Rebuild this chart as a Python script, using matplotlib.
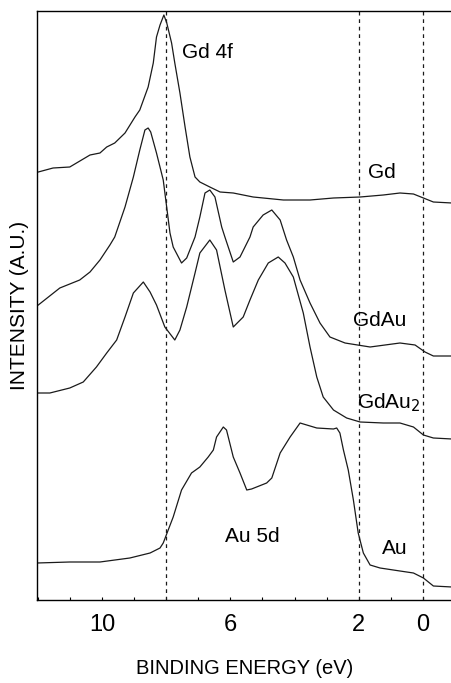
import matplotlib
matplotlib.use('Agg')
import matplotlib.pyplot as plt
from matplotlib.ticker import FixedLocator, MultipleLocator

plt.rcParams['font.family'] = ['Liberation Sans', 'DejaVu Sans']

# binding energy (eV) / intensity (arb. units, already offset per spectrum)
gd_e = [11.98, 11.52, 11.00, 10.37, 10.06, 9.85, 9.60, 9.28, 8.97, 8.82, 8.56, 8.40,
        8.30, 8.19, 8.07, 7.98, 7.83, 7.73, 7.57, 7.41, 7.26, 7.10, 6.95, 6.64, 6.32,
        5.91, 5.29, 4.35, 3.52, 2.79, 1.96, 1.24, 0.72, 0.30, -0.01, -0.32, -0.90]
gd_i = [428, 432, 433, 445, 447, 453, 457, 467, 483, 490, 513, 537,
        563, 575, 585, 577, 557, 537, 507, 473, 443, 423, 418, 413, 408,
        407, 403, 400, 400, 402, 403, 405, 407, 406, 402, 398, 397]

gdau_e = [11.98, 11.31, 10.69, 10.37, 10.06, 9.75, 9.60, 9.28, 9.02, 8.82, 8.66, 8.56,
          8.48, 8.30, 8.09, 7.88, 7.78, 7.52, 7.36, 7.10, 6.95, 6.79, 6.64, 6.48, 6.27,
          6.17, 5.91, 5.70, 5.39, 5.29, 4.98, 4.71, 4.45, 4.25, 4.04, 3.83, 3.52, 3.21,
          2.90, 2.43, 1.65, 0.72, 0.25, -0.06, -0.32, -0.90]
gdau_i = [295, 312, 320, 328, 340, 355, 363, 393, 423, 450, 470, 472,
          468, 447, 420, 367, 353, 337, 342, 363, 383, 407, 410, 403, 373,
          363, 338, 343, 363, 373, 385, 390, 380, 360, 343, 320, 297, 277,
          263, 257, 253, 257, 255, 248, 244, 244]

gdau2_e = [12.02, 11.62, 11.00, 10.58, 10.17, 9.85, 9.54, 9.28, 9.02, 8.71, 8.50, 8.30,
           8.04, 7.73, 7.57, 7.36, 7.10, 6.95, 6.64, 6.43, 6.17, 5.91, 5.60, 5.39, 5.13,
           4.82, 4.51, 4.30, 4.04, 3.73, 3.52, 3.31, 3.11, 2.79, 2.38, 1.96, 1.24, 0.72,
           0.30, -0.01, -0.32, -0.90]
gdau2_i = [207, 207, 212, 218, 233, 247, 260, 283, 307, 318, 308, 295,
           273, 260, 270, 293, 327, 347, 360, 350, 310, 273, 283, 300, 320,
           337, 343, 337, 323, 287, 253, 223, 203, 190, 182, 178, 177, 177,
           173, 165, 162, 161]

au_e = [12.02, 11.00, 10.06, 9.13, 8.50, 8.19, 8.09, 7.78, 7.52, 7.21, 6.95, 6.69,
        6.53, 6.43, 6.22, 6.12, 5.91, 5.70, 5.49, 5.34, 4.87, 4.71, 4.45, 4.14, 3.83,
        3.31, 2.79, 2.69, 2.59, 2.48, 2.33, 2.17, 2.02, 1.86, 1.65, 1.34, 0.72, 0.30,
        -0.01, -0.32, -0.90]
au_i = [37, 38, 38, 42, 47, 52, 57, 83, 110, 127, 133, 143,
        150, 163, 173, 170, 143, 127, 110, 111, 117, 122, 147, 163, 177,
        172, 171, 172, 167, 150, 130, 100, 67, 47, 35, 32, 29, 27,
        22, 14, 13]

ref_lines = [8, 2, 0]
major_ticks = [10, 6, 2, 0]

fig = plt.figure(figsize=(4.52, 6.83), dpi=100)
ax = fig.add_axes([37 / 452, 83 / 683, 1 - 37 / 452, 589 / 683])

for e, i in [(gd_e, gd_i), (gdau_e, gdau_i), (gdau2_e, gdau2_i), (au_e, au_i)]:
    ax.plot(e, i, color='#1a1a1a', lw=0.9)

for x in ref_lines:
    ax.axvline(x, color='#1a1a1a', lw=0.9, ls=(0, (3, 3)))

ax.set_xlim(12.02, -0.9)
ax.set_ylim(0, 589)

txt = dict(fontsize=15, va='center', ha='left')
ax.text(7.51, 547, 'Gd 4f', **txt)
ax.text(1.71, 428, 'Gd', **txt)
ax.text(2.18, 280, 'GdAu', **txt)
ax.text(2.06, 197, 'GdAu$_2$', **txt)
ax.text(6.17, 63, 'Au 5d', **txt)
ax.text(1.28, 52, 'Au', **txt)

ax.xaxis.set_major_locator(FixedLocator(major_ticks))
ax.xaxis.set_minor_locator(MultipleLocator(1))
ax.tick_params(axis='x', which='both', direction='in', length=2.5, width=0.8,
               labelsize=17, pad=10, top=False)
ax.set_yticks([])
ax.spines['right'].set_visible(False)
for s in ['left', 'bottom', 'top']:
    ax.spines[s].set_linewidth(1.0)

ax.set_xlabel('BINDING ENERGY (eV)', fontsize=14.5, labelpad=17)
ax.set_ylabel('INTENSITY (A.U.)', fontsize=15, labelpad=6)

fig.savefig('out.png', dpi=100)
